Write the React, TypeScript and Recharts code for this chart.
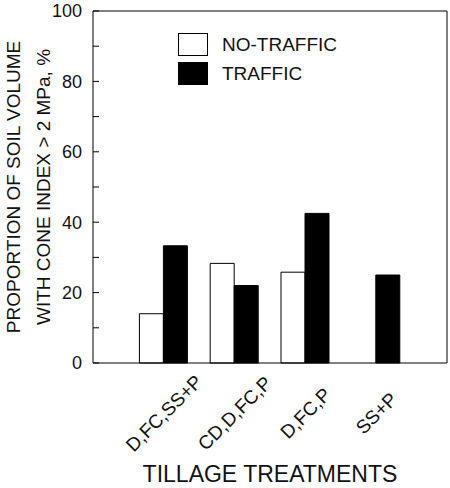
import React from 'react';
import {
  BarChart,
  Bar,
  XAxis,
  YAxis,
  Legend,
  CartesianGrid,
} from 'recharts';

const treatments = ['D,FC,SS+P', 'CD,D,FC,P', 'D,FC,P', 'SS+P'];
const noTraffic: (number | null)[] = [14, 28.3, 25.8, null];
const traffic = [33.3, 22, 42.5, 25];
const yTicks = [0, 10, 20, 30, 40, 50, 60, 70, 80, 90, 100];

const data = treatments.map((name, i) => ({
  name,
  noTraffic: noTraffic[i],
  traffic: traffic[i],
}));

const FONT = '"Liberation Sans", Arial, sans-serif';

const YTick = (props: any) => {
  const { x, y, payload } = props;
  const major = payload.value % 20 === 0;
  return (
    <g>
      <line x1={x + 11} x2={x + 17} y1={y} y2={y} stroke="#000" strokeWidth={1} />
      {major && (
        <text x={x} y={y} dy="0.36em" textAnchor="end" fontSize={18} fontFamily={FONT} fill="#111">
          {payload.value}
        </text>
      )}
    </g>
  );
};

const XTick = (props: any) => {
  const { x, y, payload } = props;
  const cy = y + 50;
  return (
    <text
      x={x}
      y={cy}
      dy="0.36em"
      textAnchor="middle"
      fontSize={19}
      fontFamily={FONT}
      fill="#111"
      transform={`rotate(-45, ${x}, ${cy})`}
    >
      {payload.value}
    </text>
  );
};

const YLabel = () => (
  <g fontFamily={FONT} fontSize={19} fill="#111">
    <text x={13} y={187} dy="0.36em" textAnchor="middle" transform="rotate(-90, 13, 187)">
      PROPORTION OF SOIL VOLUME
    </text>
    <text x={43} y={187} dy="0.36em" textAnchor="middle" transform="rotate(-90, 43, 187)">
      WITH CONE INDEX &gt; 2 MPa, %
    </text>
  </g>
);

const LegendBox = (props: any) => {
  const { payload } = props;
  return (
    <div style={{ fontFamily: FONT, fontSize: 19, color: '#111' }}>
      {(payload || []).map((entry: any) => (
        <div key={entry.value} style={{ display: 'flex', alignItems: 'center', height: 29 }}>
          <div
            style={{
              width: 28,
              height: 21,
              background: entry.dataKey === 'traffic' ? '#000' : '#fff',
              border: '1px solid #000',
              marginRight: 14,
            }}
          />
          <span>{entry.value}</span>
        </div>
      ))}
    </div>
  );
};

// frame: one grid line along the top and one along the right edge of the plot
const topEdge = (p: any) => [p.offset.top];
const rightEdge = (p: any) => [p.offset.left + p.offset.width];

export default function App() {
  return (
    <div style={{ position: 'absolute', left: 0, top: 0, background: '#fff' }}>
      <BarChart
        width={450}
        height={488}
        data={data}
        margin={{ top: 11, right: 3, left: 0, bottom: 0 }}
        barSize={24}
        barGap={0}
      >
        <CartesianGrid
          stroke="#000"
          horizontalCoordinatesGenerator={topEdge}
          verticalCoordinatesGenerator={rightEdge}
        />
        <XAxis
          dataKey="name"
          height={125}
          padding={{ left: 35.4, right: 35.4 }}
          tickLine={false}
          tickSize={0}
          tickMargin={0}
          interval={0}
          stroke="#000"
          tick={<XTick />}
          label={{
            value: 'TILLAGE TREATMENTS',
            position: 'insideBottom',
            offset: 6,
            fontSize: 23,
            fontFamily: FONT,
            fill: '#111',
          }}
        />
        <YAxis
          width={93}
          domain={[0, 100]}
          ticks={yTicks}
          interval={0}
          tickLine={false}
          tickSize={0}
          tickMargin={11}
          stroke="#000"
          tick={<YTick />}
          label={<YLabel />}
        />
        <Legend
          layout="vertical"
          verticalAlign="middle"
          align="center"
          wrapperStyle={{ position: 'absolute', left: 178, top: 30, width: 200 }}
          content={<LegendBox />}
        />
        <Bar dataKey="noTraffic" name="NO-TRAFFIC" fill="#fff" stroke="#000" strokeWidth={1} isAnimationActive={false} />
        <Bar dataKey="traffic" name="TRAFFIC" fill="#000" stroke="#000" strokeWidth={1} isAnimationActive={false} />
      </BarChart>
    </div>
  );
}
